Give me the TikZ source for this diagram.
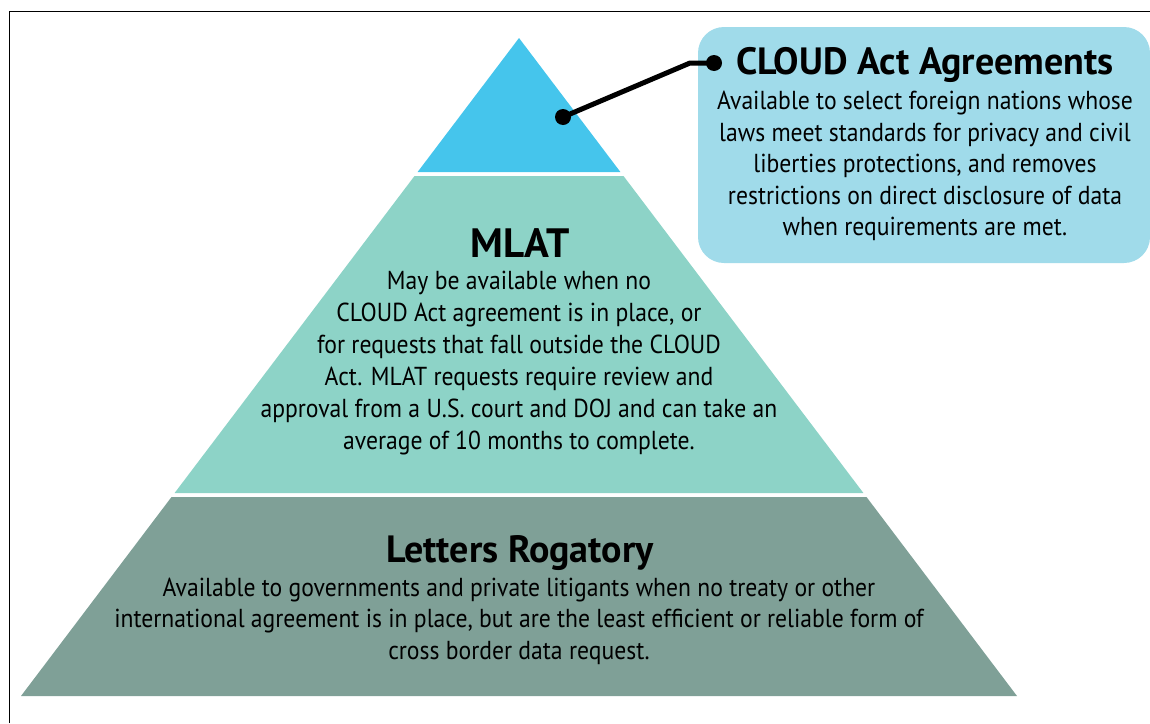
\documentclass[tikz,border=0pt]{standalone}
\usepackage{fontspec}
\setmainfont{PT Sans}
\newfontfamily\narrowfont[FakeStretch=0.91]{PT Sans}
\definecolor{tipblue}{HTML}{45C5EC}
\definecolor{mlatgreen}{HTML}{8DD3C7}
\definecolor{lettersgreen}{HTML}{7FA097}
\definecolor{boxblue}{HTML}{A0DBEA}
\tikzset{
  headtext/.style={font=\bfseries\fontsize{38}{40}\selectfont},
  bodytext/.style={align=center,font=\narrowfont\fontsize{26}{31.5}\selectfont},
  dot/.style={circle,fill=black,inner sep=0pt,minimum size=16pt}
}
\begin{document}
\begin{tikzpicture}[x=1pt,y=-1pt]
  \useasboundingbox (0,0) rectangle (1150,723);
  \draw [thick] (9,723)--(9,11)--(1150,11);
  % pyramid layers
  \fill [tipblue] (519,38)--(620.4,172)--(417.6,172)--cycle;
  \fill [mlatgreen] (414.5,176)--(623.5,176)--(863.4,493)--(174.6,493)--cycle;
  \fill [lettersgreen] (171.5,497)--(866.5,497)--(1017,696)--(21,696)--cycle;
  % callout
  \fill [boxblue, rounded corners=26pt] (698,27) rectangle (1150,263);
  \node (cloudtitle) [headtext] at (925,65) {CLOUD Act Agreements};
  \node (cloudtext) [bodytext] at (925,166) {Available to select foreign nations whose\\laws meet standards for privacy and civil\\liberties protections, and removes\\restrictions on direct disclosure of data\\when requirements are met.};
  \node (tipdot) [dot] at (563,117) {};
  \node (boxdot) [dot] at (714,63) {};
  \coordinate (bend) at (690,63);
  \draw [line width=5pt] (tipdot.center)--(bend)--(boxdot.center);
  % MLAT
  \node (mlattitle) [headtext, font=\bfseries\fontsize{41}{44}\selectfont] at (520,243) {MLAT};
  \node (mlattext) [bodytext, font=\narrowfont\fontsize{26}{32}\selectfont] at (519,363) {May be available when no\\CLOUD Act agreement is in place, or\\for requests that fall outside the CLOUD\\Act. MLAT requests require review and\\approval from a U.S. court and DOJ and can take an\\average of 10 months to complete.};
  % letters rogatory
  \node (lettitle) [headtext] at (520,553) {Letters Rogatory};
  \node (lettext) [bodytext] at (519,621) {Available to governments and private litigants when no treaty or other\\international agreement is in place, but are the least efficient or reliable form of\\cross border data request.};
\end{tikzpicture}
\end{document}
